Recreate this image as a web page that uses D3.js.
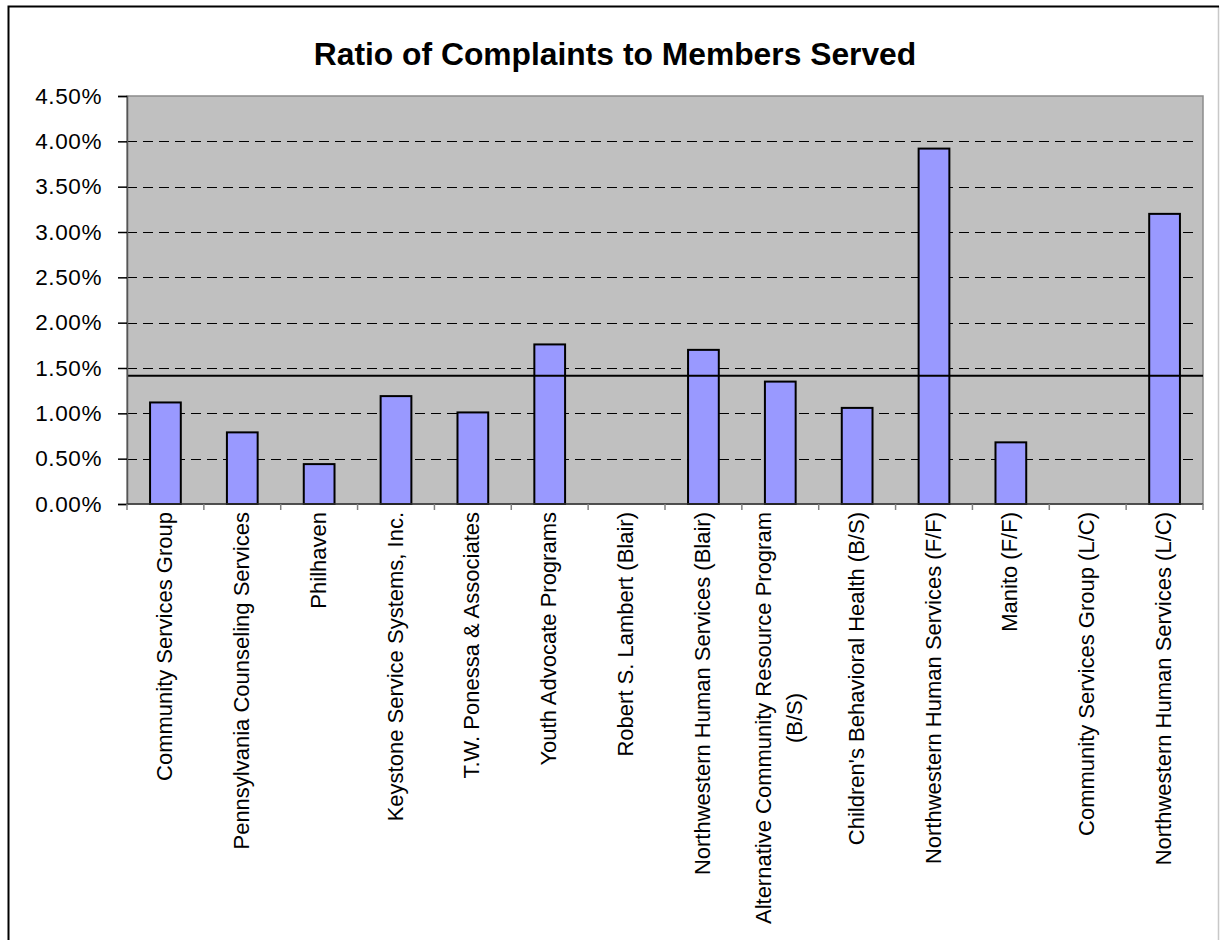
<!DOCTYPE html>
<meta charset="utf-8">
<style>
  body { margin: 0; background: #fff; }
  text { font-family: Arial, "Liberation Sans", sans-serif; }
</style>
<svg width="1220" height="940"></svg>
<script src="https://d3js.org/d3.v7.min.js"></script>
<script>

var categories = [
  "Community Services Group",
  "Pennsylvania Counseling Services",
  "Philhaven",
  "Keystone Service Systems, Inc.",
  "T.W. Ponessa & Associates",
  "Youth Advocate Programs",
  "Robert S. Lambert (Blair)",
  "Northwestern Human Services (Blair)",
  "Alternative Community Resource Program\n(B/S)",
  "Children's Behavioral Health (B/S)",
  "Northwestern Human Services (F/F)",
  "Manito (F/F)",
  "Community Services Group (L/C)",
  "Northwestern Human Services (L/C)"
];
var ratios = [0.0112, 0.0079, 0.0044, 0.0119, 0.0101, 0.0176, 0, 0.0170, 0.0135, 0.0106, 0.0392, 0.0068, 0, 0.0320];
var average = 0.01415;
var yTicks = [0, 0.005, 0.01, 0.015, 0.02, 0.025, 0.03, 0.035, 0.04, 0.045];

var svg = d3.select("svg"),
    plotLeft = 127, plotRight = 1203, plotTop = 96, plotBottom = 504;

// outer frame
svg.append("line").attr("x1", 1218.5).attr("x2", 1218.5).attr("y1", 6).attr("y2", 940)
    .attr("stroke", "#c8c8c8").attr("stroke-width", 1.5);
svg.append("path").attr("d", "M8.5,940V6.5H1219")
    .attr("fill", "none").attr("stroke", "#000").attr("stroke-width", 2);

svg.append("text")
    .attr("x", 615).attr("y", 65)
    .attr("text-anchor", "middle")
    .attr("font-size", 31.8).attr("font-weight", "bold")
    .text("Ratio of Complaints to Members Served");

var x = d3.scaleBand().domain(categories).range([plotLeft, plotRight]);
var y = d3.scaleLinear().domain([0, 0.045]).range([plotBottom, plotTop]);

// plot area
svg.append("rect")
    .attr("x", plotLeft).attr("y", plotTop)
    .attr("width", plotRight - plotLeft).attr("height", plotBottom - plotTop)
    .attr("fill", "#c0c0c0").attr("stroke", "#8c8c8c").attr("stroke-width", 1.5);

// gridlines
svg.append("g").selectAll("line")
  .data(yTicks.filter(function(d) { return d > 0 && d < 0.045; }))
  .join("line")
    .attr("x1", plotLeft).attr("x2", plotRight - 6)
    .attr("y1", function(d) { return Math.round(y(d)) + 0.5; })
    .attr("y2", function(d) { return Math.round(y(d)) + 0.5; })
    .attr("stroke", "#000").attr("stroke-dasharray", "10,6");

// bars
var bw = x.bandwidth() * 0.4;
svg.append("g").selectAll("rect")
  .data(categories.map(function(c, i) { return {name: c, value: ratios[i]}; })
        .filter(function(d) { return d.value > 0; }))
  .join("rect")
    .attr("x", function(d) { return x(d.name) + (x.bandwidth() - bw) / 2; })
    .attr("y", function(d) { return y(d.value); })
    .attr("width", bw)
    .attr("height", function(d) { return plotBottom - y(d.value); })
    .attr("fill", "#9999ff").attr("stroke", "#000").attr("stroke-width", 2);

// average line
svg.append("line")
    .attr("x1", plotLeft).attr("x2", plotRight)
    .attr("y1", y(average)).attr("y2", y(average))
    .attr("stroke", "#000").attr("stroke-width", 2);

// y axis
var yAxis = svg.append("g")
    .attr("transform", "translate(" + plotLeft + ",0)")
    .call(d3.axisLeft(y).tickValues(yTicks).tickSize(9).tickPadding(16)
          .tickFormat(d3.format(".2%")));
yAxis.select(".domain").attr("stroke", "#555").attr("stroke-width", 1.5);
yAxis.selectAll(".tick line").attr("stroke", "#000").attr("stroke-width", 1.5);
yAxis.selectAll("text")
    .attr("font-family", "Arial, 'Liberation Sans', sans-serif")
    .attr("font-size", 22.5).attr("letter-spacing", 0.6).attr("fill", "#000");

// x axis line and ticks between categories
svg.append("line")
    .attr("x1", plotLeft).attr("x2", plotRight).attr("y1", plotBottom).attr("y2", plotBottom)
    .attr("stroke", "#333").attr("stroke-width", 1.5);
var bounds = categories.map(function(c) { return x(c); }).concat([plotRight]);
svg.append("g").selectAll("line")
  .data(bounds)
  .join("line")
    .attr("x1", function(d) { return d; }).attr("x2", function(d) { return d; })
    .attr("y1", plotBottom).attr("y2", plotBottom + 6)
    .attr("stroke", "#808080").attr("stroke-width", 1.5);

// category labels
var labels = svg.append("g").selectAll("g")
  .data(categories)
  .join("g")
    .attr("transform", function(d) {
      return "translate(" + (x(d) + x.bandwidth() / 2) + "," + 512 + ") rotate(-90)";
    });

labels.each(function(d) {
  var g = d3.select(this),
      lines = d.split("\n"),
      n = lines.length;
  var texts = g.selectAll("text")
    .data(lines)
    .join("text")
      .attr("font-size", 22)
      .attr("y", function(l, i) { return (i - (n - 1) / 2) * 31; })
      .attr("dy", "0.3em")
      .text(function(l) { return l; });
  if (n === 1) {
    texts.attr("text-anchor", "end");
  } else {
    var maxLen = d3.max(texts.nodes(), function(t) { return t.getComputedTextLength(); });
    texts.attr("text-anchor", "middle").attr("x", -maxLen / 2);
  }
});

</script>
